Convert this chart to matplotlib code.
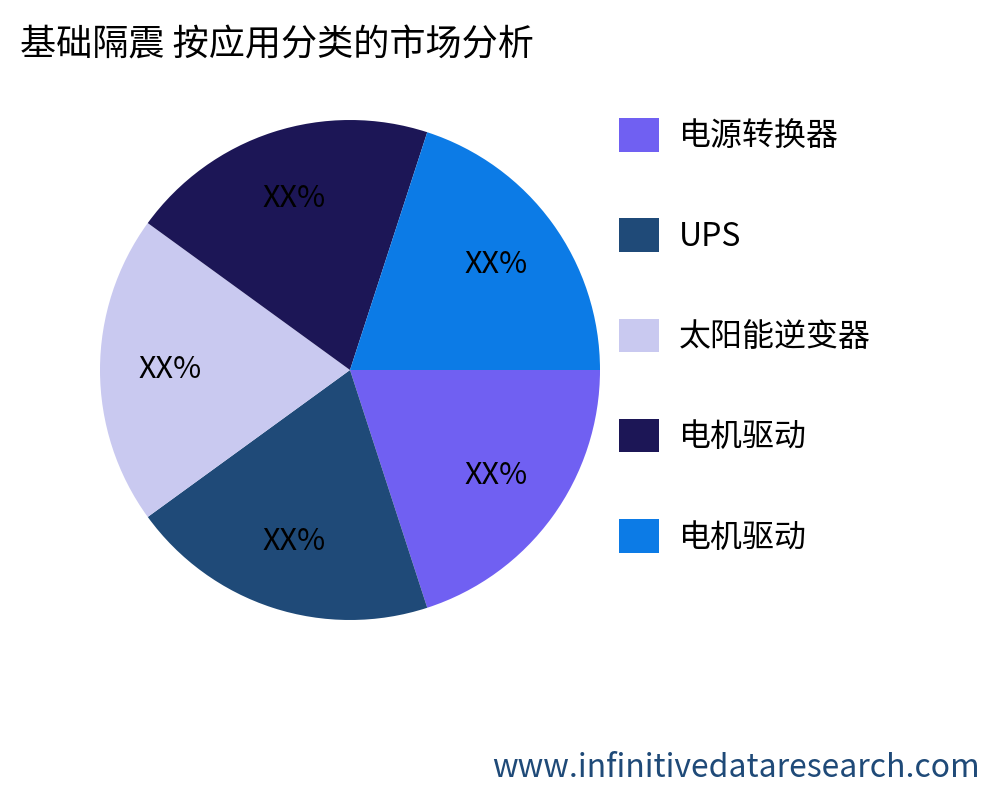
import matplotlib.pyplot as plt

plt.rcParams['font.family'] = ['Noto Sans CJK SC', 'DejaVu Sans']

categories = ['电源转换器', 'UPS', '太阳能逆变器', '电机驱动', '电机驱动']
shares = [20, 20, 20, 20, 20]
slice_labels = ['XX%'] * 5
colors = ['#7060F2', '#1F4A78', '#C9C9F0', '#1C1656', '#0C7BE6']

fig = plt.figure(figsize=(10, 8), dpi=100)
ax = fig.add_axes([0.1, 0.225, 0.5, 0.625])
wedges, texts = ax.pie(shares, colors=colors, startangle=0, counterclock=False,
                       labels=slice_labels, labeldistance=0.72,
                       textprops={'fontsize': 22, 'ha': 'center', 'va': 'center'})
ax.set_xlim(-1, 1)
ax.set_ylim(-1, 1)
ax.set_aspect('equal')

fig.text(0.02, 0.943, '基础隔震 按应用分类的市场分析', fontsize=26, va='center')
fig.text(0.98, 0.04, 'www.infinitivedataresearch.com', fontsize=23,
         color='#1F4A78', ha='right', va='center')

fig.legend(wedges, categories, loc='upper left', bbox_to_anchor=(0.59, 0.888),
           frameon=False, fontsize=23, handlelength=1.25, handleheight=1.25,
           labelspacing=2.05, handletextpad=0.63)

fig.savefig('out.png')
